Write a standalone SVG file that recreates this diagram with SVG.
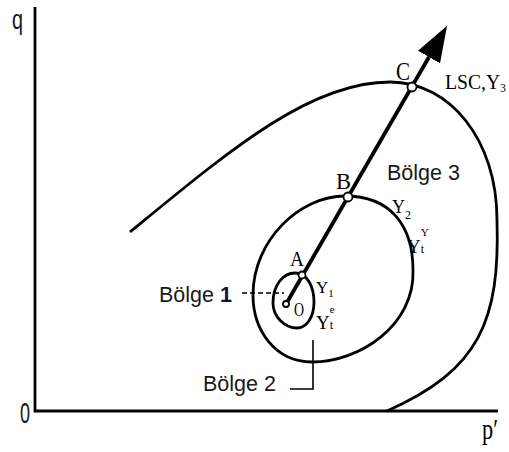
<svg xmlns="http://www.w3.org/2000/svg" width="509" height="452" viewBox="0 0 509 452">
<style>
.ax{stroke:#000;stroke-width:2.8;fill:none}
.cv{stroke:#000;stroke-width:2.8;fill:none}
.sp{stroke:#000;stroke-width:3.8;fill:none}
.pt{fill:#fff;stroke:#000;stroke-width:1.8}
.ld{stroke:#000;stroke-width:1.6;fill:none}
.sf{font-family:"Liberation Serif","Times New Roman",serif;fill:#000}
.ss{font-family:"Liberation Sans",Arial,sans-serif;fill:#1a1a1a;font-size:21.5px}
</style>
<defs>
<marker id="ah" markerUnits="userSpaceOnUse" markerWidth="36" markerHeight="26" viewBox="0 0 34 24" refX="0" refY="12" orient="auto">
<path d="M0,0 L34,12 L0,24 Z" fill="#000"/>
</marker>
</defs>
<rect width="509" height="452" fill="#fff"/>
<g id="axes">
<path class="ax" d="M35,7 L35,411 L498,411"/>
<text class="ss" x="12" y="29" style="font-size:28px" textLength="11" lengthAdjust="spacingAndGlyphs">q</text>
<text class="ss" x="20" y="423" style="font-size:30px" textLength="10" lengthAdjust="spacingAndGlyphs">0</text>
<text class="sf" x="482" y="439" font-size="30" textLength="16" lengthAdjust="spacingAndGlyphs">p′</text>
</g>
<g id="curve-Y3">
<path class="cv" d="M130,232 C230,150 310,82 390,82 C450,82 497,140 497,220 C500,320 480,370 387,411"/>
<text class="sf" x="445" y="89" font-size="20" textLength="61" lengthAdjust="spacingAndGlyphs">LSC,Y<tspan font-size="12" dy="3">3</tspan></text>
</g>
<g id="curve-Y2">
<path class="cv" d="M345,196 C390,196 413,225 413,270 C415,325 360,362 312,362 C275,362 253,330 253,295 C253,240 300,196 345,196 Z"/>
<text class="sf" x="392" y="213" font-size="18">Y<tspan font-size="12" dy="6">2</tspan></text>
<text class="sf" x="407" y="253" font-size="19">Y<tspan font-size="11" dy="-17">Y</tspan><tspan font-size="12" dx="-8" dy="17">t</tspan></text>
</g>
<g id="curve-Y1">
<path class="cv" d="M295,273 C308,273 314,288 314,302 C314,318 306,328 297,328 C285,328 273,317 273,303 C273,285 283,273 295,273 Z"/>
<text class="sf" x="316" y="293" font-size="17">Y<tspan font-size="11" dy="4">1</tspan></text>
<text class="sf" x="316" y="329" font-size="19">Y<tspan font-size="11" dy="-16">e</tspan><tspan font-size="12" dx="-5" dy="16">t</tspan></text>
<text class="sf" x="294" y="316" font-size="18" textLength="10" lengthAdjust="spacingAndGlyphs">O</text>
</g>
<g id="connectors">
<path class="sp" d="M286,304 L429,57" marker-end="url(#ah)"/>
<path class="ld" d="M242,293 L284,293" stroke-dasharray="5,3"/>
<path class="ld" d="M290,389 L313,389 L313,340"/>
</g>
<g id="points">
<circle class="pt" cx="286" cy="304" r="3"/>
<circle class="pt" cx="302" cy="275" r="3.5"/>
<circle class="pt" cx="348" cy="197" r="4.5"/>
<circle class="pt" cx="412" cy="87" r="4.5"/>
</g>
<g id="labels">
<text class="sf" x="290" y="266" font-size="22" textLength="14" lengthAdjust="spacingAndGlyphs">A</text>
<text class="sf" x="336" y="189" font-size="24" textLength="15" lengthAdjust="spacingAndGlyphs">B</text>
<text class="sf" x="396" y="80" font-size="25" textLength="14" lengthAdjust="spacingAndGlyphs">C</text>
<text class="ss" x="387" y="180">Bölge 3</text>
<text class="ss" x="159" y="302">Bölge <tspan font-weight="bold" fill="#10103a">1</tspan></text>
<text class="ss" x="203" y="391">Bölge 2</text>
</g>
</svg>
